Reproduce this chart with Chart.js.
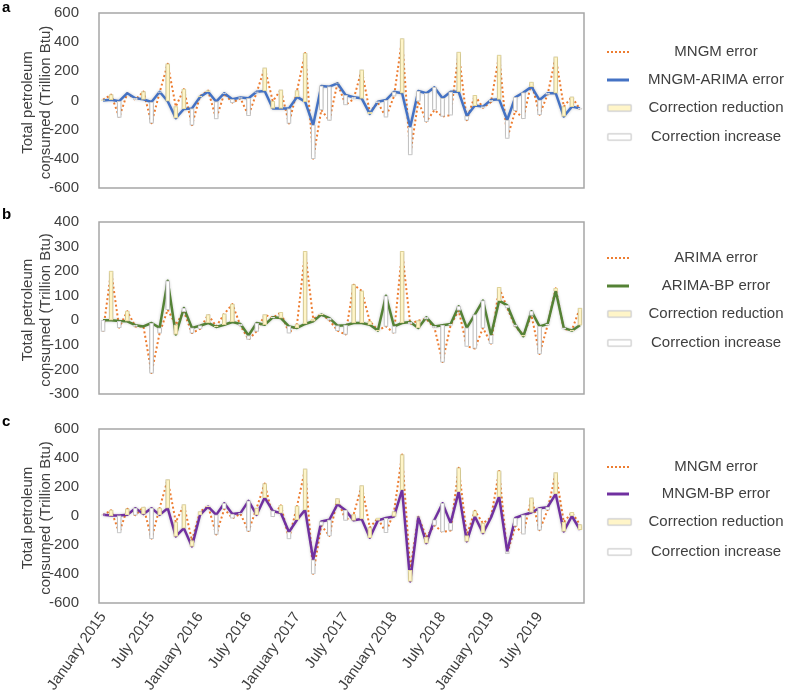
<!DOCTYPE html>
<html lang="en">
<head>
<meta charset="UTF-8">
<title>Petroleum consumption forecast errors</title>
<script src="https://cdn.jsdelivr.net/npm/chart.js@4.4.1/dist/chart.umd.min.js"></script>
<style>
  body { margin: 0; background: #fff; }
  #wrap { position: relative; width: 790px; height: 693px; }
  canvas { position: absolute; left: 0; }
</style>
</head>
<body>
<div id="wrap">
  <canvas id="chartA" width="790" height="205" style="top:0"></canvas>
  <canvas id="chartB" width="790" height="205" style="top:205px"></canvas>
  <canvas id="chartC" width="790" height="283" style="top:410px"></canvas>
</div>
<script>
const months = [
  'January 2015','February 2015','March 2015','April 2015','May 2015','June 2015',
  'July 2015','August 2015','September 2015','October 2015','November 2015','December 2015',
  'January 2016','February 2016','March 2016','April 2016','May 2016','June 2016',
  'July 2016','August 2016','September 2016','October 2016','November 2016','December 2016',
  'January 2017','February 2017','March 2017','April 2017','May 2017','June 2017',
  'July 2017','August 2017','September 2017','October 2017','November 2017','December 2017',
  'January 2018','February 2018','March 2018','April 2018','May 2018','June 2018',
  'July 2018','August 2018','September 2018','October 2018','November 2018','December 2018',
  'January 2019','February 2019','March 2019','April 2019','May 2019','June 2019',
  'July 2019','August 2019','September 2019','October 2019','November 2019','December 2019'
];

// MNGM error (used in panels a and c)
const mngmError = [
  5, 40, -116, 50, 5, 62, -156, 55, 252, -42, 78, -169,
  30, 68, -127, 48, -15, 15, -104, 55, 224, -5, 74, -158,
  68, 326, -399, -65, -137, 120, -30, 10, 210, -80, -15, -115,
  30, 424, -374, -5, -145, -65, -110, -100, 332, -135, 36, -50,
  -10, 311, -260, -70, -125, 126, -98, 42, 300, -42, 25, -60
];
const mngmArimaError = [
  0, 5, -5, 50, 15, 8, -10, 60, -5, -122, -58, -55,
  25, 60, -8, 50, 8, 20, 15, 60, 65, -55, -55, -55,
  25, -8, -168, 100, 95, 118, 38, 22, 15, -92, -8, 3,
  60, 50, -184, 65, 50, 90, 15, 60, 60, -106, -35, -42,
  3, 8, -134, 22, 54, 95, 3, 50, 50, -110, -42, -54
];

const arimaError = [
  -45, 200, -30, 37, -25, -25, -215, -52, 43, -18, 35, -52,
  -35, 23, -25, 26, 66, -22, -78, -45, 23, 10, 32, -52,
  -15, 281, 5, 25, 0, -42, -58, 145, 120, -4, -40, -25,
  -52, 281, -15, -1, 5, -30, -170, -20, 40, -106, -115, -31,
  -95, 134, 50, -25, -60, 20, -137, -20, 130, -35, -40, 50
];
const arimaBpError = [
  0, 0, -3, -4, -20, -25, -11, -31, 161, -58, 50, -31,
  -22, -11, -27, -18, -7, -15, -62, -11, -18, 12, 9, -25,
  -31, -15, -4, 23, 9, -22, -20, -11, -11, -18, -42, 100,
  -25, -11, -7, -31, 12, -25, -20, -15, 57, -31, 23, 80,
  -61, 80, 61, -18, -65, 37, -25, -15, 120, -31, -42, -20
];

const mngmBpError = [
  8, 3, 3, 8, 54, 13, 54, 8, 54, -141, -84, -210,
  8, 65, 8, 88, 13, 20, 104, 8, 127, 35, 20, -111,
  -26, 42, -302, -38, -26, 81, 40, -30, -20, -150, -30, -14,
  -3, 180, -451, -8, -187, -26, 88, -49, 168, -175, -3, -118,
  -10, 134, -245, -14, 8, 24, 54, 61, 152, -106, 0, -95
];

const FONT = "'Liberation Sans', Arial, sans-serif";
const TEXT = '#404040';
const ORANGE = '#ed7d31';
const YELLOW = '#fff5c8';

const panelDecor = {
  id: 'panelDecor',
  beforeDatasetDraw(chart, args) {
    const ds = chart.data.datasets[args.index];
    const ctx = chart.ctx;
    ctx.save();
    if (ds.type === 'bar') {
      ctx.shadowColor = 'rgba(0,0,0,0.35)';
      ctx.shadowBlur = 3;
    } else if (!ds.borderDash) {
      ctx.shadowColor = 'rgba(0,0,0,0.22)';
      ctx.shadowBlur = 3;
    }
  },
  afterDatasetDraw(chart) {
    chart.ctx.restore();
  },
  afterDraw(chart, args, opts) {
    const ctx = chart.ctx;
    const a = chart.chartArea;
    ctx.save();
    // plot frame
    ctx.strokeStyle = '#a6a6a6';
    ctx.lineWidth = 1.5;
    ctx.strokeRect(a.left, a.top, a.right - a.left, a.bottom - a.top);

    // panel letter
    ctx.fillStyle = '#000';
    ctx.font = 'bold 15px ' + FONT;
    ctx.textAlign = 'left';
    ctx.textBaseline = 'middle';
    ctx.fillText(opts.letter, 2, opts.letterY);

    // axis title, two lines
    const cy = (a.top + a.bottom) / 2 + 2;
    ctx.fillStyle = TEXT;
    ctx.font = '15px ' + FONT;
    ctx.textAlign = 'center';
    [['Total petroleum', 28], ['consumed (Trillion Btu)', 46]].forEach(([t, x]) => {
      ctx.save();
      ctx.translate(x, cy);
      ctx.rotate(-Math.PI / 2);
      ctx.fillText(t, 0, 0);
      ctx.restore();
    });

    // legend
    const x0 = 607, x1 = 629, tx = 716;
    opts.items.forEach((it, k) => {
      const y = a.top + opts.legendY[k];
      ctx.save();
      if (it.kind === 'dot') {
        ctx.strokeStyle = ORANGE; ctx.lineWidth = 2; ctx.setLineDash([2, 2]);
        ctx.beginPath(); ctx.moveTo(x0, y); ctx.lineTo(x1, y); ctx.stroke();
      } else if (it.kind === 'line') {
        ctx.strokeStyle = it.color; ctx.lineWidth = 3;
        ctx.beginPath(); ctx.moveTo(x0, y); ctx.lineTo(x1, y); ctx.stroke();
      } else {
        ctx.shadowColor = 'rgba(0,0,0,0.35)'; ctx.shadowBlur = 2;
        ctx.fillStyle = it.kind === 'up' ? YELLOW : '#fff';
        ctx.fillRect(x0 + 1, y - 3, x1 - x0 + 1, 6);
        ctx.shadowBlur = 0;
        ctx.strokeStyle = '#d0d0d0'; ctx.lineWidth = 1;
        ctx.strokeRect(x0 + 1, y - 3, x1 - x0 + 1, 6);
      }
      ctx.restore();
      ctx.fillStyle = TEXT;
      ctx.font = '15px ' + FONT;
      ctx.textAlign = 'center';
      ctx.textBaseline = 'middle';
      ctx.fillText(it.label, tx, y);
    });
    ctx.restore();
  }
};

function makePanel(id, o) {
  const bars = o.orig.map((v, i) => [o.corr[i], v]);
  const fills = o.orig.map((v, i) => v > o.corr[i] ? YELLOW : '#ffffff');
  const edges = o.orig.map((v, i) => v > o.corr[i] ? '#efe2a6' : '#d6d6d6');
  const xScale = {
    display: o.showX,
    offset: true,
    grid: { display: false, drawTicks: false },
    border: { display: false },
    ticks: {
      autoSkip: false, maxRotation: 55, minRotation: 55, padding: 6,
      color: TEXT, font: { family: FONT, size: 15 },
      callback: (v, i) => i % 6 === 0 ? months[i] : null
    }
  };
  if (o.showX) xScale.afterFit = s => { s.height = 90; };
  new Chart(document.getElementById(id), {
    data: {
      labels: months,
      datasets: [
        { type: 'bar', label: 'Correction', data: bars, backgroundColor: fills,
          borderColor: edges, borderWidth: 1, borderSkipped: false, barThickness: 4, order: 0 },
        { type: 'line', label: o.corrLabel, data: o.corr, borderColor: o.color,
          borderWidth: 2.5, borderJoinStyle: 'round', pointRadius: 0, tension: 0, order: 1 },
        { type: 'line', label: o.origLabel, data: o.orig, borderColor: ORANGE,
          borderWidth: 2, borderDash: [2, 2.5], borderJoinStyle: 'round',
          pointRadius: 0, tension: 0, order: 2 }
      ]
    },
    options: {
      responsive: false,
      animation: false,
      layout: { padding: { top: o.padTop, bottom: o.padBottom, left: 0, right: 206 } },
      plugins: {
        legend: { display: false },
        tooltip: { enabled: false },
        panelDecor: {
          letter: o.letter, letterY: o.letterY, legendY: o.legendY,
          items: [
            { kind: 'dot', label: o.origLabel },
            { kind: 'line', label: o.corrLabel, color: o.color },
            { kind: 'up', label: 'Correction reduction' },
            { kind: 'down', label: 'Correction increase' }
          ]
        }
      },
      scales: {
        x: xScale,
        y: {
          min: o.min, max: o.max,
          grid: { display: false, drawTicks: false },
          border: { display: false },
          ticks: { stepSize: o.step, autoSkip: false, padding: 20, color: TEXT, font: { family: FONT, size: 15 } },
          afterFit: s => { s.width = 99; s.paddingTop = 0; s.paddingBottom = 0; }
        }
      }
    },
    plugins: [panelDecor]
  });
}

makePanel('chartA', {
  orig: mngmError, corr: mngmArimaError, origLabel: 'MNGM error', corrLabel: 'MNGM-ARIMA error',
  color: '#4472c4', min: -600, max: 600, step: 200, padTop: 13, padBottom: 17, showX: false,
  letter: 'a', letterY: 8, legendY: [39, 67, 95, 124]
});
makePanel('chartB', {
  orig: arimaError, corr: arimaBpError, origLabel: 'ARIMA error', corrLabel: 'ARIMA-BP error',
  color: '#548235', min: -300, max: 400, step: 100, padTop: 17, padBottom: 16, showX: false,
  letter: 'b', letterY: 10, legendY: [36, 64, 92, 121]
});
makePanel('chartC', {
  orig: mngmError, corr: mngmBpError, origLabel: 'MNGM error', corrLabel: 'MNGM-BP error',
  color: '#7030a0', min: -600, max: 600, step: 200, padTop: 19, padBottom: 0, showX: true,
  letter: 'c', letterY: 12, legendY: [38, 65, 93, 123]
});
</script>
</body>
</html>
